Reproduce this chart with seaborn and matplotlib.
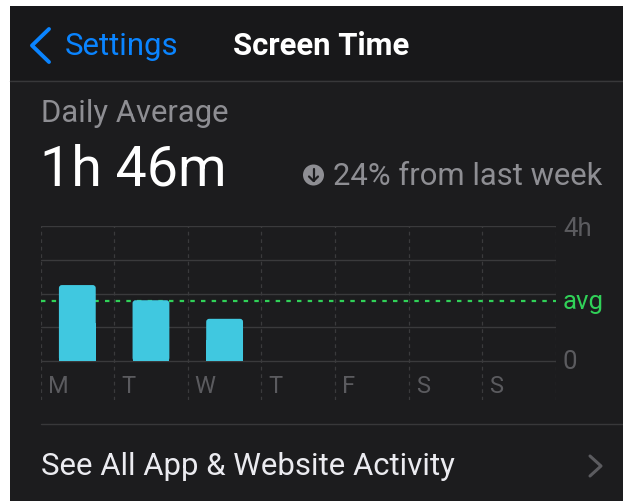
import numpy as np
import pandas as pd
import matplotlib
matplotlib.use("Agg")
import matplotlib.pyplot as plt
import seaborn as sns
from matplotlib.patches import Rectangle, Circle, FancyBboxPatch

# ---- data ----
days = ["M", "T", "W", "T", "F", "S", "S"]
hours = [2.25, 1.80, 1.25, 0, 0, 0, 0]
avg_hours = 1.77
y_ticks = [0, 4]
y_tick_labels = ["0", "4h"]
title_back = "Settings"
title = "Screen Time"
subtitle = "Daily Average"
big_value = "1h 46m"
change_text = "24% from last week"
footer = "See All App & Website Activity"

# ---- colours ----
BG = "#1c1c1e"
NAV = "#18181a"
SEP = "#38383a"
GRID = "#3a3a3c"
BAR = "#40c8e0"
GREEN = "#30d158"
LABEL = "#5b5b5f"
SUB = "#8e8e93"
BLUE = "#0a84ff"

sns.set_theme(style="white")
plt.rcParams["font.family"] = ["Roboto", "DejaVu Sans"]

W, H = 623, 503
fig = plt.figure(figsize=(W / 100, H / 100), dpi=100, facecolor="white")

# overlay axes in pixel coordinates
ov = fig.add_axes([0, 0, 1, 1], zorder=0)
ov.set_xlim(0, W)
ov.set_ylim(H, 0)
ov.axis("off")

ov.add_patch(Rectangle((10, 6), W - 10, 495, color=BG, lw=0))
ov.add_patch(Rectangle((10, 6), W - 10, 74, color=NAV, lw=0))
ov.plot([10, W], [80.5, 80.5], color=SEP, lw=1)

# back chevron
ov.plot([49, 32, 49], [29, 45.5, 62], color=BLUE, lw=2.8, solid_capstyle="round",
        solid_joinstyle="round")
ov.text(65, 55, title_back, color=BLUE, fontsize=22.4, va="baseline", ha="left")
ov.text(233, 55, title, color="white", fontsize=22.4, fontweight="bold",
        va="baseline", ha="left")

ov.text(41, 122, subtitle, color=SUB, fontsize=22.3, va="baseline", ha="left")
ov.text(40, 185, big_value, color="white", fontsize=40, va="baseline", ha="left")

# down arrow icon
ov.add_patch(Circle((313.5, 175), 10.5, color=SUB, lw=0))
ov.plot([313.5, 313.5], [168.5, 181], color=BG, lw=1.6, solid_capstyle="round")
ov.plot([309, 313.5, 318], [176.5, 181, 176.5], color=BG, lw=1.6,
        solid_capstyle="round", solid_joinstyle="round")
ov.text(333, 185, change_text, color=SUB, fontsize=22.3, va="baseline", ha="left")

# footer
ov.plot([40.5, W], [423.5, 423.5], color=SEP, lw=1)
ov.text(41, 475, footer, color="#ebebf0", fontsize=22.4, va="baseline", ha="left")
ov.plot([590, 601, 590], [456, 466, 476], color=LABEL, lw=2.2,
        solid_capstyle="round", solid_joinstyle="round")

# ---- chart axes ----
left_px, right_px, top_px, bot_px = 40.5, 556, 226, 400
zero_px = 361
ppu = (zero_px - top_px) / 4.0
slot_px = (right_px - left_px) / len(days)
ax = fig.add_axes([left_px / W, 1 - bot_px / H, (right_px - left_px) / W,
                   (bot_px - top_px) / H], zorder=1)
ax.patch.set_alpha(0)

df = pd.DataFrame({"slot": np.arange(len(days)), "hours": hours})
sns.barplot(data=df, x="slot", y="hours", color=BAR, width=0.5, linewidth=0,
            saturation=1, ax=ax, zorder=3)

ymin = -(bot_px - zero_px) / ppu
ax.set_xlim(-0.5, len(days) - 0.5)
ax.set_ylim(ymin, 4)
ax.axis("off")

# round the top corners of the seaborn bars
r = 3.0 / slot_px
aspect = slot_px / ppu
for p in list(ax.patches):
    x0, y0 = p.get_x(), p.get_y()
    w, h = p.get_width(), p.get_height()
    if h <= 0:
        continue
    p.set_visible(False)
    ax.add_patch(FancyBboxPatch((x0, y0), w, h,
                                boxstyle=f"round,pad=0,rounding_size={r}",
                                mutation_aspect=aspect, color=BAR, lw=0, zorder=3))
    ax.add_patch(Rectangle((x0, y0), w, h / 2, color=BAR, lw=0, zorder=3))

for g in range(0, 5):
    ax.plot([-0.5, len(days) - 0.5], [g, g], color=GRID, lw=1, zorder=1)
for i in range(len(days) + 1):
    ax.plot([i - 0.5, i - 0.5], [ymin, 4], color=GRID, lw=0.9,
            linestyle=(0, (3, 3)), zorder=1)

ax.plot([-0.5, len(days) - 0.5], [avg_hours, avg_hours], color=GREEN, lw=1.6,
        linestyle=(0, (2, 2.8)), zorder=2)

for i, d in enumerate(days):
    ax.text(i - 0.5 + 7 / slot_px, -32 / ppu, d, color=LABEL, fontsize=17,
            ha="left", va="baseline")

lx = len(days) - 0.5 + 7 / slot_px
label_base = {0: 369, 4: 236}
for v, lab in zip(y_ticks, y_tick_labels):
    ax.text(lx, (zero_px - label_base[v]) / ppu, lab, color=LABEL, fontsize=18.5,
            ha="left", va="baseline", clip_on=False)
ax.text(lx, avg_hours - 8.2 / ppu, "avg", color=GREEN, fontsize=18.5, ha="left",
        va="baseline", clip_on=False)

fig.savefig("out.png", dpi=100, facecolor="white")
